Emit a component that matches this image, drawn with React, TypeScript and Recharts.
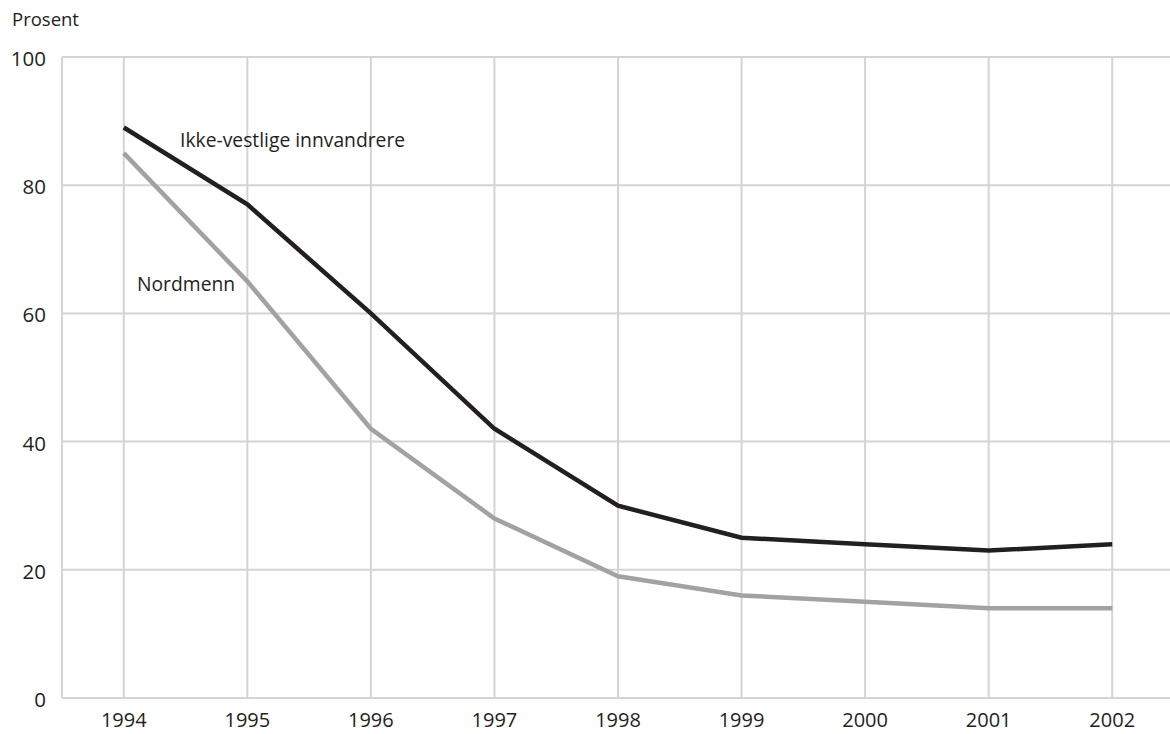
import { CartesianGrid, Line, LineChart, XAxis, YAxis } from 'recharts';

const years = [1994, 1995, 1996, 1997, 1998, 1999, 2000, 2001, 2002];
const ikkeVestlige = [89, 77, 60, 42, 30, 25, 24, 23, 24];
const nordmenn = [85, 65, 42, 28, 19, 16, 15, 14, 14];
const yTicks = [0, 20, 40, 60, 80, 100];

const data = years.map((year, i) => ({
  year,
  ikkeVestlige: ikkeVestlige[i],
  nordmenn: nordmenn[i],
}));

const FONT = '"Open Sans", "Noto Sans", sans-serif';
const GRID = '#d4d4d6';
const TEXT = '#231f20';

// custom ticks so the font size is applied for sure
const XTick = (props: any) => {
  const { x, y, payload } = props;
  return (
    <text x={x} y={y + 26.5} textAnchor="middle" fill={TEXT} fontSize={20} fontFamily={FONT}>
      {payload.value}
    </text>
  );
};

const YTick = (props: any) => {
  const { y, payload } = props;
  return (
    <text x={46} y={y + 9} textAnchor="end" fill={TEXT} fontSize={20.5} fontFamily={FONT}>
      {payload.value}
    </text>
  );
};

export default function App() {
  return (
    <div style={{ position: 'relative', width: 1170, height: 734, overflow: 'hidden', background: '#fff', fontFamily: FONT }}>
      <style>{`body{margin:0}`}</style>
      <LineChart width={1175} height={734} data={data} margin={{ top: 57, right: 1, left: 0, bottom: 0 }}>
        <CartesianGrid stroke={GRID} strokeWidth={2} />
        <XAxis
          dataKey="year"
          type="number"
          domain={[1993.5, 2002.5]}
          ticks={years}
          height={36}
          axisLine={{ stroke: GRID, strokeWidth: 2 }}
          tickLine={false}
          tickSize={0}
          tick={<XTick />}
          interval={0}
        />
        <YAxis
          domain={[0, 100]}
          ticks={yTicks}
          width={62}
          axisLine={{ stroke: GRID, strokeWidth: 2 }}
          tickLine={false}
          tickSize={0}
          tick={<YTick />}
          interval={0}
        />
        <Line
          dataKey="nordmenn"
          stroke="#a2a2a5"
          strokeWidth={4.5}
          dot={false}
          isAnimationActive={false}
        />
        <Line
          dataKey="ikkeVestlige"
          stroke={TEXT}
          strokeWidth={4.5}
          dot={false}
          isAnimationActive={false}
        />
      </LineChart>
      <div style={{ position: 'absolute', left: 12, top: 6, fontSize: 18.5, color: TEXT }}>Prosent</div>
      <div style={{ position: 'absolute', left: 180, top: 126, fontSize: 19.3, color: TEXT }}>
        Ikke-vestlige innvandrere
      </div>
      <div style={{ position: 'absolute', left: 137, top: 270, fontSize: 19.3, color: TEXT }}>Nordmenn</div>
    </div>
  );
}
